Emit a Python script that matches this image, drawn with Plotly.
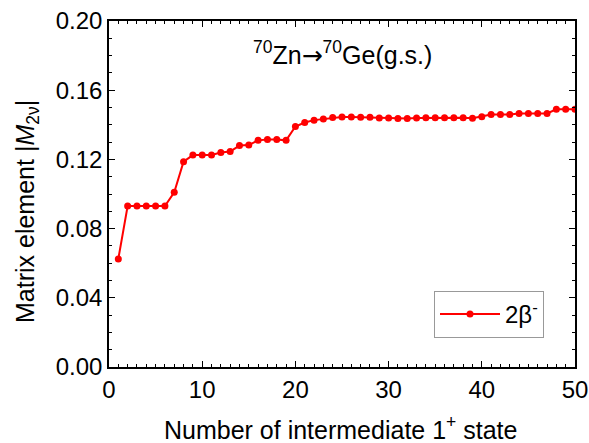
import plotly.graph_objects as go

# Data: number of intermediate 1+ states vs |M_2nu|
n_states = list(range(1, 51))
m2nu = [
    0.0625, 0.0930, 0.0930, 0.0930, 0.0930, 0.0930, 0.1010, 0.1187, 0.1225, 0.1225,
    0.1225, 0.1240, 0.1245, 0.1280, 0.1283, 0.1310, 0.1315, 0.1315, 0.1310, 0.1390,
    0.1413, 0.1427, 0.1433, 0.1442, 0.1445, 0.1445, 0.1443, 0.1443, 0.1440, 0.1440,
    0.1436, 0.1436, 0.1440, 0.1441, 0.1441, 0.1441, 0.1441, 0.1441, 0.1438, 0.1447,
    0.1460, 0.1460, 0.1460, 0.1465, 0.1465, 0.1465, 0.1466, 0.1490, 0.1490, 0.1490,
]
x_ticks = [0, 10, 20, 30, 40, 50]
y_ticks = [0.00, 0.04, 0.08, 0.12, 0.16, 0.20]
y_ticklabels = ["0.00", "0.04", "0.08", "0.12", "0.16", "0.20"]

FONT = "Liberation Sans, Arial, sans-serif"
W, H = 589, 443
L, R, T, B = 109, 14, 21, 76
PW, PH = W - L - R, H - T - B

def px_x(p):
    return (p - L) / PW

def px_y(p):
    return (H - B - p) / PH

fig = go.Figure()
fig.add_trace(go.Scatter(
    x=n_states, y=m2nu, mode="lines+markers",
    line=dict(color="#ff0000", width=2),
    marker=dict(color="#ff0000", size=7),
    name="2β<sup>-</sup>",
))

axis_common = dict(
    showline=True, linecolor="black", linewidth=1.5, mirror="ticks",
    ticks="inside", ticklen=6, tickwidth=1.2, tickcolor="black",
    showgrid=False, zeroline=False, automargin=False,
    tickfont=dict(family=FONT, size=24, color="black"),
)

fig.update_xaxes(
    range=[0, 50], tickvals=x_ticks,
    minor=dict(dtick=1, ticks="inside", ticklen=3, tickcolor="black", tickwidth=1),
    **axis_common,
)
fig.update_yaxes(
    range=[0, 0.20], tickvals=y_ticks, ticktext=y_ticklabels,
    minor=dict(dtick=0.01, ticks="inside", ticklen=3, tickcolor="black", tickwidth=1),
    **axis_common,
)

fig.add_annotation(
    text="<sup>70</sup>Zn<span style='font-family:DejaVu Sans'>→</span><sup>70</sup>Ge(g.s.)",
    xref="paper", yref="paper",
    x=px_x(342), y=px_y(54), xanchor="center", yanchor="middle", showarrow=False,
    font=dict(family=FONT, size=25, color="black"),
)
fig.add_annotation(
    text="Matrix element |<i>M</i><sub>2ν</sub>|", xref="paper", yref="paper",
    x=px_x(27), y=px_y(212), xanchor="center", yanchor="middle", textangle=-90,
    showarrow=False, font=dict(family=FONT, size=25, color="black"),
)
fig.add_annotation(
    text="Number of intermediate 1<sup>+</sup> state", xref="paper", yref="paper",
    x=px_x(340), y=px_y(428), xanchor="center", yanchor="middle",
    showarrow=False, font=dict(family=FONT, size=25, color="black"),
)

fig.update_layout(
    width=W, height=H,
    margin=dict(l=L, r=R, t=T, b=B),
    paper_bgcolor="white", plot_bgcolor="white",
    showlegend=True,
    legend=dict(
        x=px_x(544), y=px_y(338), xanchor="right", yanchor="bottom",
        bordercolor="#999999", borderwidth=1, bgcolor="white", itemwidth=60,
        font=dict(family=FONT, size=24, color="black"),
    ),
)

fig.write_html("out.html")
